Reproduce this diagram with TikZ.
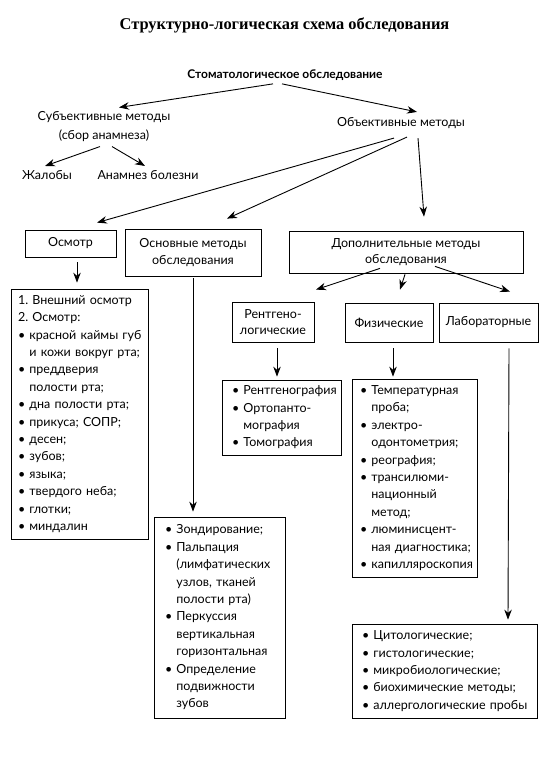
\documentclass[tikz,border=0pt]{standalone}
\usepackage{fontspec}
\setmainfont{Lato}
\newfontfamily\titlefont{Liberation Serif}
\usetikzlibrary{arrows.meta}

\newcommand{\bul}[1]{\mbox{\textbullet~#1}}
\newcommand{\nxt}[1]{\mbox{\phantom{\textbullet~}#1}}

\begin{document}
\frenchspacing
\begin{tikzpicture}[x=1pt,y=-1pt,line width=0.9pt,
  font=\fontsize{12.5}{17.4}\selectfont,
  arr/.style={-{Stealth[length=10pt,width=7.5pt]}},
  lbl/.style={inner sep=0pt,align=center},
  box/.style={draw,line width=0.75pt,inner sep=0pt,align=center},
  lst/.style={draw,line width=0.75pt,align=left,inner xsep=9pt,inner ysep=0pt}]
  \useasboundingbox (0,0) rectangle (549,773);
  % headings
  \node(title) [lbl,font=\titlefont\bfseries\fontsize{16.4}{18}\selectfont] at (284.5,25) {Структурно-логическая схема обследования};
  \node(stom)  [lbl,font=\bfseries\fontsize{12}{14}\selectfont] at (285,75) {Стоматологическое обследование};
  \node(subj)  [lbl,font=\fontsize{12.5}{19}\selectfont] at (104,127) {Субъективные методы\\(сбор анамнеза)};
  \node(zhal)  [lbl] at (47,175)  {Жалобы};
  \node(anam)  [lbl] at (148,175) {Анамнез болезни};
  \node(obj)   [lbl] at (401,123) {Объективные методы};
  % boxes
  \node(osm)  [box,minimum width=91pt,minimum height=27pt]  at (70.5,243.5) {Осмотр};
  \node(osn)  [box,minimum width=136pt,minimum height=47pt] at (193,252.5)  {Основные методы\\обследования};
  \node(dop)  [box,minimum width=234pt,minimum height=42pt,font=\fontsize{12.5}{16}\selectfont] at (406,252) {Дополнительные методы\\обследования};
  \node(rent) [box,minimum width=82pt,minimum height=40pt,font=\fontsize{12.5}{15.5}\selectfont]  at (273,322) {Рентгено-\\логические};
  \node(fiz)  [box,minimum width=88pt,minimum height=39pt]  at (389,322.5)  {Физические};
  \node(lab)  [box,minimum width=99pt,minimum height=39pt]  at (488.5,322.5) {Лабораторные};
  % lists
  \node(osmlist) [lst,inner xsep=7pt,text width=123pt,minimum height=250pt] at (79.5,414) {1.~Внешний осмотр\\2.~Осмотр:\\
    \bul{красной каймы губ}\\\nxt{и кожи вокруг рта;}\\\bul{преддверия}\\\nxt{полости рта;}\\
    \bul{дна полости рта;}\\\bul{прикуса; СОПР;}\\\bul{десен;}\\\bul{зубов;}\\\bul{языка;}\\
    \bul{твердого неба;}\\\bul{глотки;}\\\bul{миндалин}};
  \node(osnlist) [lst,inner xsep=11pt,text width=109pt,minimum height=201pt] at (219.5,617.5) {\bul{Зондирование;}\\
    \bul{Пальпация}\\\nxt{(лимфатических}\\\nxt{узлов, тканей}\\\nxt{полости рта)}\\
    \bul{Перкуссия}\\\nxt{вертикальная}\\\nxt{горизонтальная}\\
    \bul{Определение}\\\nxt{подвижности}\\\nxt{зубов}};
  \node(rentlist) [lst,inner xsep=10pt,text width=99pt,minimum height=75pt] at (281.5,417.5) {\bul{Рентгенография}\\
    \bul{Ортопанто-}\\\nxt{мография}\\\bul{Томография}};
  \node(fizlist) [lst,inner xsep=8pt,text width=109pt,minimum height=198pt] at (414.5,478) {\bul{Температурная}\\\nxt{проба;}\\
    \bul{электро-}\\\nxt{одонтометрия;}\\\bul{реография;}\\\bul{трансилюми-}\\\nxt{национный}\\\nxt{метод;}\\
    \bul{люминисцент-}\\\nxt{ная диагностика;}\\\bul{капилляроскопия}};
  \node(lablist) [lst,inner xsep=10pt,text width=165pt,minimum height=94pt] at (444.5,671) {\bul{Цитологические;}\\
    \bul{гистологические;}\\\bul{микробиологические;}\\\bul{биохимические методы;}\\\bul{аллергологические пробы}};
  % connectors
  \draw[arr] ([xshift=-12pt,yshift=-3pt]stom.south) -- ([xshift=15pt,yshift=4pt]subj.north);
  \draw[arr] ([xshift=-3pt,yshift=-3pt]stom.south)  -- ([xshift=16pt,yshift=5pt]obj.north);
  \draw[arr] ([xshift=-4pt,yshift=-4pt]subj.south)  -- ([xshift=-2pt,yshift=4pt]zhal.north);
  \draw[arr] ([xshift=8pt,yshift=-4pt]subj.south)   -- ([xshift=-3pt,yshift=4pt]anam.north);
  \draw[arr] ([xshift=-7pt,yshift=-9pt]obj.south)   -- ([xshift=26.5pt,yshift=7pt]osm.north);
  \draw[arr] ([xshift=6pt,yshift=-8pt]obj.south)    -- ([xshift=34pt,yshift=10pt]osn.north);
  \draw[arr] ([xshift=17pt,yshift=-9pt]obj.south)   -- ([xshift=18pt,yshift=14pt]dop.north);
  \draw[arr] ([xshift=-26pt,yshift=5pt]dop.south)   -- ([xshift=43pt,yshift=12pt]rent.north);
  \draw[arr] ([xshift=-1pt,yshift=-1pt]dop.south)   -- ([xshift=11pt,yshift=13pt]fiz.north);
  \draw[arr] ([xshift=29pt,yshift=7pt]dop.south)    -- ([xshift=21.5pt,yshift=11pt]lab.north);
  \draw[arr] ([xshift=6.5pt,yshift=-5pt]osm.south)  -- ([xshift=-2.5pt,yshift=6pt]osmlist.north);
  \draw[arr] ([yshift=-2pt]osn.south)               -- ([xshift=-26.5pt,yshift=5pt]osnlist.north);
  \draw[arr] ([xshift=4pt,yshift=-6pt]rent.south)   -- ([xshift=-4.5pt,yshift=3pt]rentlist.north);
  \draw[arr] ([xshift=4pt,yshift=-6pt]fiz.south)    -- ([xshift=-21.5pt,yshift=2pt]fizlist.north);
  \draw[arr] ([xshift=20.5pt,yshift=-6pt]lab.south) -- ([xshift=63.5pt,yshift=4pt]lablist.north);
\end{tikzpicture}
\end{document}
